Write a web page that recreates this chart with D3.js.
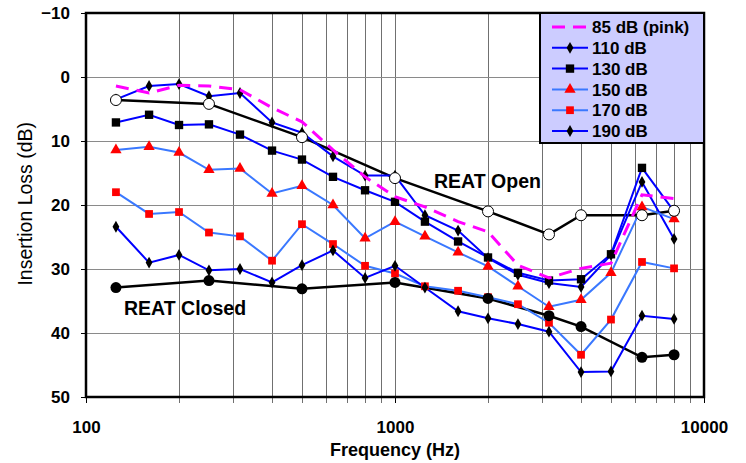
<!DOCTYPE html>
<html><head><meta charset="utf-8">
<script src="https://cdn.jsdelivr.net/npm/d3@7"></script>
<style>body{margin:0;background:#fff;} text{font-family:Arial,"Liberation Sans",sans-serif;}</style>
</head><body><svg id="c" width="746" height="463"></svg>
<script>
const freqs = [125,160,200,250,315,400,500,630,800,1000,1250,1600,2000,2500,3150,4000,5000,6300,8000];
const reatFreqs = [125,250,500,1000,2000,3150,4000,6300,8000];
const pink85 = [1.4,2.5,1.3,1.4,2.0,4.8,7.0,11.4,15.6,18.7,20.3,22.6,24.2,29.4,31.4,29.9,29.1,18.4,19.0];
const db110 = [3.5,1.4,1.1,3.0,2.5,7.1,8.7,12.4,15.4,15.4,21.6,24.0,28.3,30.9,32.2,32.8,27.8,16.4,25.3];
const db130 = [7.1,5.9,7.5,7.4,9.0,11.5,12.9,15.6,17.7,19.5,22.6,25.7,28.2,30.6,31.8,31.6,27.7,14.2,21.0];
const db150 = [11.4,10.9,11.8,14.5,14.3,18.2,17.0,20.0,25.2,22.6,24.9,27.4,29.6,32.7,35.9,34.8,30.6,20.3,22.2];
const db170 = [18.0,21.4,21.1,24.3,24.9,28.7,23.0,26.1,29.5,30.7,32.7,33.4,34.4,35.5,38.4,43.4,37.9,28.9,29.9];
const db190 = [23.4,29.0,27.8,30.2,30.0,32.1,29.4,27.1,31.4,29.5,32.9,36.6,37.7,38.6,39.8,46.1,46.0,37.3,37.8];
const reatOpen = [3.6,4.2,9.4,15.8,21.0,24.6,21.6,21.6,20.9];
const reatClosed = [32.9,31.8,33.1,32.1,34.6,37.3,39.0,43.8,43.4];
const yTicks = [-10,0,10,20,30,40,50];
const xTickLabels = [100,1000,10000];
const legendLabels = ["85 dB (pink)","110 dB","130 dB","150 dB","170 dB","190 dB"];

const svg = d3.select("#c");
const x = d3.scaleLog().domain([100,10000]).range([86,704]);
const y = d3.scaleLinear().domain([-10,50]).range([13,397]);

// grid
const minor = [];
[100,1000].forEach(d=>{for(let k=2;k<=9;k++) minor.push(d*k);});
const gx = minor.concat([1000]);
svg.append("g").selectAll("line").data(gx).join("line")
  .attr("x1",d=>Math.round(x(d))+0.5).attr("x2",d=>Math.round(x(d))+0.5)
  .attr("y1",y(-10)).attr("y2",y(50)+6).attr("stroke","#707070").attr("stroke-width",1);
svg.append("g").selectAll("line").data(yTicks.slice(1,-1)).join("line")
  .attr("x1",x(100)).attr("x2",x(10000)).attr("y1",d=>Math.round(y(d))+0.5).attr("y2",d=>Math.round(y(d))+0.5)
  .attr("stroke","#8a8a8a").attr("stroke-width",1);

// axes
const yAxis = d3.axisLeft(y).tickValues(yTicks).tickSize(5).tickFormat(d3.format("d"));
const ya = svg.append("g").attr("transform",`translate(${x(100)},0)`).call(yAxis);
ya.select(".domain").remove();
ya.selectAll("text").attr("font-size",17).attr("font-weight","bold").attr("x",-16).attr("dy","0.35em").attr("fill","#000");
const xAxis = d3.axisBottom(x).tickValues(xTickLabels).tickSize(6).tickFormat(d3.format("d"));
const xa = svg.append("g").attr("transform",`translate(0,${y(50)})`).call(xAxis);
xa.select(".domain").remove();
xa.selectAll("text").attr("font-size",17).attr("font-weight","bold").attr("y",24).attr("fill","#000");

// plot border
svg.append("rect").attr("x",x(100)).attr("y",y(-10)).attr("width",x(10000)-x(100)).attr("height",y(50)-y(-10))
  .attr("fill","none").attr("stroke","#000").attr("stroke-width",2.5);

const line = d3.line().x(d=>x(d[0])).y(d=>y(d[1]));
const zipF = (fs,vs)=>fs.map((f,i)=>[f,vs[i]]);

// REAT lines
svg.append("path").attr("d",line(zipF(reatFreqs,reatOpen))).attr("fill","none").attr("stroke","#000").attr("stroke-width",2.5);
svg.append("path").attr("d",line(zipF(reatFreqs,reatClosed))).attr("fill","none").attr("stroke","#000").attr("stroke-width",2.5);

const series = [
  {vals:db110,color:"#0000ff",marker:"diamond",mcolor:"#000"},
  {vals:db130,color:"#0000ff",marker:"square",mcolor:"#000"},
  {vals:db150,color:"#3a78ff",marker:"triangle",mcolor:"#ff0000"},
  {vals:db170,color:"#3a78ff",marker:"square2",mcolor:"#ff0000"},
  {vals:db190,color:"#0000ff",marker:"diamond",mcolor:"#000"}
];
const sym = {
  diamond: d3.symbol().type(d3.symbolDiamond).size(40),
  square: d3.symbol().type(d3.symbolSquare).size(70),
  square2: d3.symbol().type(d3.symbolSquare).size(60),
  triangle: d3.symbol().type(d3.symbolTriangle).size(55)
};
series.forEach(s=>{
  svg.append("path").attr("d",line(zipF(freqs,s.vals))).attr("fill","none").attr("stroke",s.color).attr("stroke-width",2);
});
series.forEach(s=>{
  svg.append("g").selectAll("path").data(zipF(freqs,s.vals)).join("path")
    .attr("d",sym[s.marker]()).attr("transform",d=>`translate(${x(d[0])},${y(d[1])})`).attr("fill",s.mcolor);
});
// pink
svg.append("path").attr("d",line(zipF(freqs,pink85))).attr("fill","none").attr("stroke","#ff00ff").attr("stroke-width",3).attr("stroke-dasharray","13,8");

// REAT markers
svg.append("g").selectAll("circle").data(zipF(reatFreqs,reatOpen)).join("circle")
  .attr("cx",d=>x(d[0])).attr("cy",d=>y(d[1])).attr("r",5.5).attr("fill","#fff").attr("stroke","#000").attr("stroke-width",1);
svg.append("g").selectAll("circle").data(zipF(reatFreqs,reatClosed)).join("circle")
  .attr("cx",d=>x(d[0])).attr("cy",d=>y(d[1])).attr("r",5.5).attr("fill","#000");

// annotations
svg.append("text").attr("x",434).attr("y",188).attr("font-size",19.5).attr("font-weight","bold").text("REAT Open");
svg.append("text").attr("x",124).attr("y",315).attr("font-size",19.5).attr("font-weight","bold").text("REAT Closed");

// titles
svg.append("text").attr("x",x(1000)).attr("y",456).attr("text-anchor","middle").attr("font-size",18).attr("font-weight","bold").text("Frequency (Hz)");
svg.append("text").attr("transform",`translate(32,${y(19.8)}) rotate(-90)`).attr("text-anchor","middle").attr("font-size",19.5).text("Insertion Loss (dB)");

// legend
const lg = svg.append("g");
lg.append("rect").attr("x",540).attr("y",13).attr("width",164).attr("height",130).attr("fill","#ccccff").attr("stroke","#000").attr("stroke-width",2);
const legStyle = [
  {color:"#ff00ff",dash:"13,8",w:3,marker:null},
  {color:"#0000ff",w:2,marker:"diamond",mcolor:"#000"},
  {color:"#0000ff",w:2,marker:"square",mcolor:"#000"},
  {color:"#3a78ff",w:2,marker:"triangle",mcolor:"#ff0000"},
  {color:"#3a78ff",w:2,marker:"square2",mcolor:"#ff0000"},
  {color:"#0000ff",w:2,marker:"diamond",mcolor:"#000"}
];
legendLabels.forEach((t,i)=>{
  const yy = 27 + i*20.8;
  lg.append("line").attr("x1",552).attr("x2",588).attr("y1",yy).attr("y2",yy).attr("stroke",legStyle[i].color)
    .attr("stroke-width",legStyle[i].w).attr("stroke-dasharray",legStyle[i].dash||null);
  if(legStyle[i].marker) lg.append("path").attr("d",sym[legStyle[i].marker]()).attr("transform",`translate(570,${yy})`).attr("fill",legStyle[i].mcolor);
  lg.append("text").attr("x",592).attr("y",yy).attr("dy","0.36em").attr("font-size",17).attr("font-weight","bold").text(t);
});
</script></body></html>
